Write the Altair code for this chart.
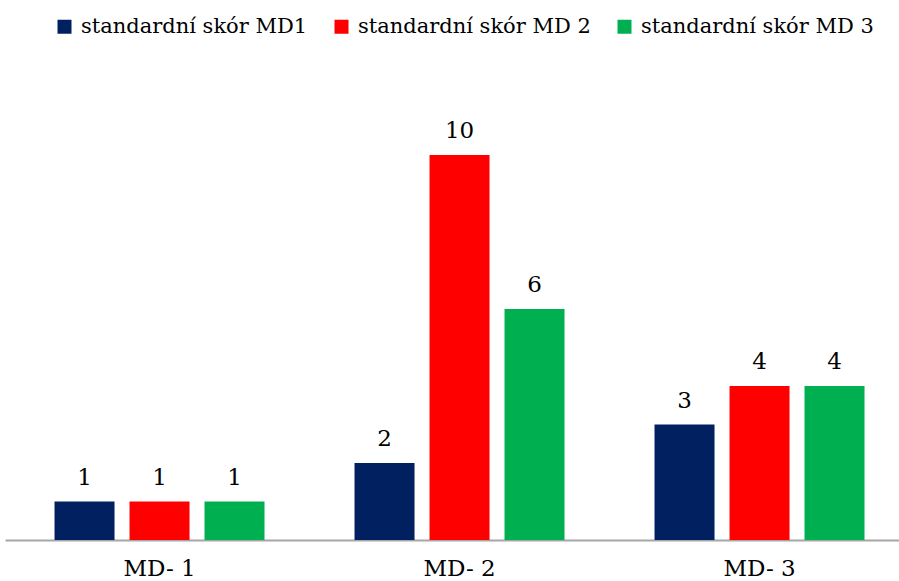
import altair as alt
import pandas as pd

categories = ["MD- 1", "MD- 2", "MD- 3"]
series = ["standardní skór MD1", "standardní skór MD 2", "standardní skór MD 3"]
values_md1 = [1, 2, 3]
values_md2 = [1, 10, 4]
values_md3 = [1, 6, 4]
colors = ["#002060", "#FF0000", "#00B050"]

rows = []
for s, vals in zip(series, [values_md1, values_md2, values_md3]):
    for c, v in zip(categories, vals):
        rows.append({"category": c, "series": s, "value": v})
df = pd.DataFrame(rows)

FONT = "DejaVu Serif"

x_enc = alt.X("category:N", sort=categories,
              scale=alt.Scale(paddingInner=0.25, paddingOuter=0.115, align=0.609),
              axis=alt.Axis(title=None, labelAngle=0, ticks=False, labelPadding=17,
                            labelFontSize=23, labelFont=FONT, labelColor="#000000",
                            domainColor="#A6A6A6", domainWidth=2, grid=False))
xoff = alt.XOffset("series:N", sort=series,
                   scale=alt.Scale(paddingInner=0.2, paddingOuter=0.1))
y_enc = alt.Y("value:Q", scale=alt.Scale(domain=[0, 12], nice=False), axis=None)

bars = alt.Chart(df).mark_bar().encode(
    x=x_enc,
    xOffset=xoff,
    y=y_enc,
    color=alt.Color("series:N", sort=series,
                    scale=alt.Scale(domain=series, range=colors),
                    legend=alt.Legend(title=None, orient="none", direction="horizontal",
                                      legendX=49, legendY=-62, symbolType="square",
                                      symbolSize=196, symbolStrokeWidth=0,
                                      labelFont=FONT, labelFontSize=21,
                                      labelColor="#000000", labelOffset=6,
                                      columnPadding=23, padding=0, labelLimit=400)),
)

labels = alt.Chart(df).mark_text(baseline="alphabetic", dy=-17, fontSize=23,
                                 font=FONT, color="#000000").encode(
    x=alt.X("category:N", sort=categories),
    xOffset=alt.XOffset("series:N", sort=series),
    y=alt.Y("value:Q"),
    text=alt.Text("value:Q"),
)

chart = alt.layer(bars, labels).properties(
    width=894, height=462,
    autosize=alt.AutoSizeParams(type="none"),
    padding={"left": 5, "top": 78, "right": 0, "bottom": 41},
    background="#FFFFFF",
).configure_view(stroke=None)

chart.save("out.html", embed_options={"renderer": "svg", "actions": False})
